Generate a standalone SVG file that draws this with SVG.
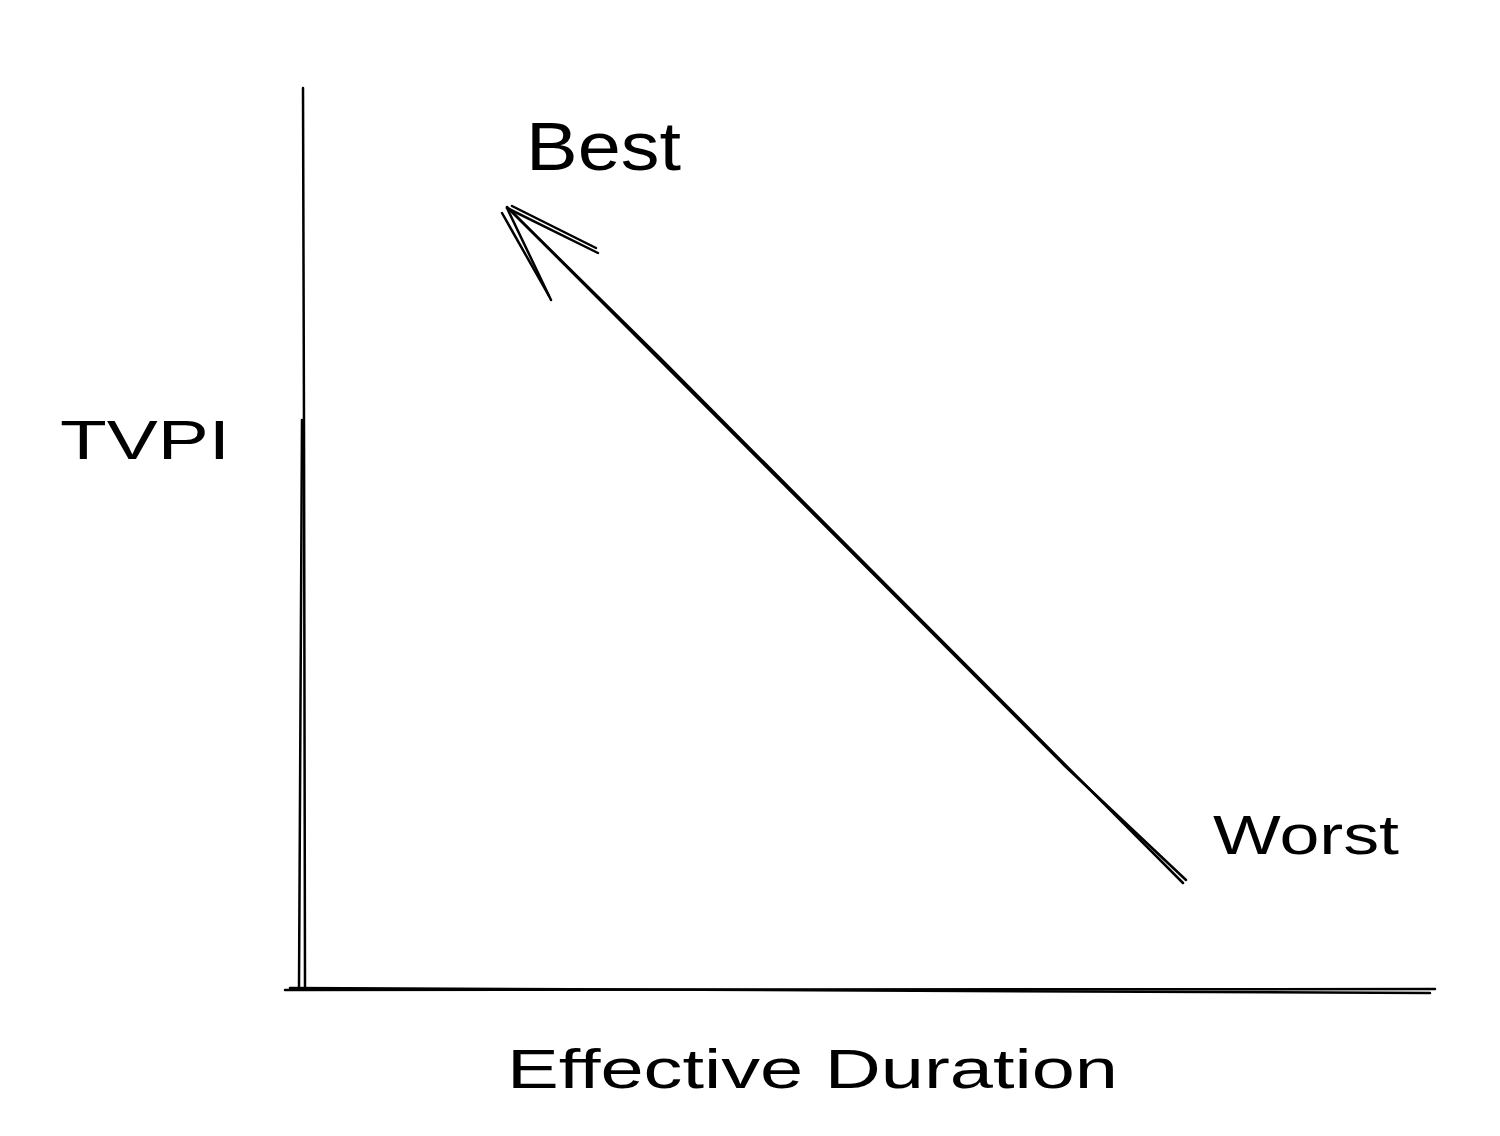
<svg xmlns="http://www.w3.org/2000/svg" width="1500" height="1136" viewBox="0 0 1500 1136">
<style>
.ln{stroke:#000;stroke-width:2.5;fill:none;stroke-linecap:round}
.lbl{font-family:"Liberation Sans",Arial,sans-serif;fill:#000}
</style>
<rect width="1500" height="1136" fill="#fff"/>
<g id="axes">
<path class="ln" d="M303 88 L304 430 L305 988"/>
<path class="ln" d="M302 420 L299 988"/>
<path class="ln" d="M285 990 L1435 989"/>
<path class="ln" d="M290 988 L1430 993"/>
</g>
<g id="connectors">
<path class="ln" d="M1183 883 L660 358 L507 207"/>
<path class="ln" d="M1186 880 L1065 766 L512 212"/>
<path class="ln" d="M507 208 L598 253"/>
<path class="ln" d="M512 206 L596 248"/>
<path class="ln" d="M507 208 L551 300"/>
<path class="ln" d="M502 213 L549 296"/>
</g>
<g id="best"><text class="lbl" x="526" y="170" font-size="68" textLength="155" lengthAdjust="spacingAndGlyphs">Best</text></g>
<g id="tvpi"><text class="lbl" x="60" y="459" font-size="56" textLength="170" lengthAdjust="spacingAndGlyphs">TVPI</text></g>
<g id="worst"><text class="lbl" x="1213" y="854" font-size="56" textLength="186" lengthAdjust="spacingAndGlyphs">Worst</text></g>
<g id="xlabel"><text class="lbl" x="507" y="1088" font-size="56" textLength="611" lengthAdjust="spacingAndGlyphs">Effective Duration</text></g>
</svg>
